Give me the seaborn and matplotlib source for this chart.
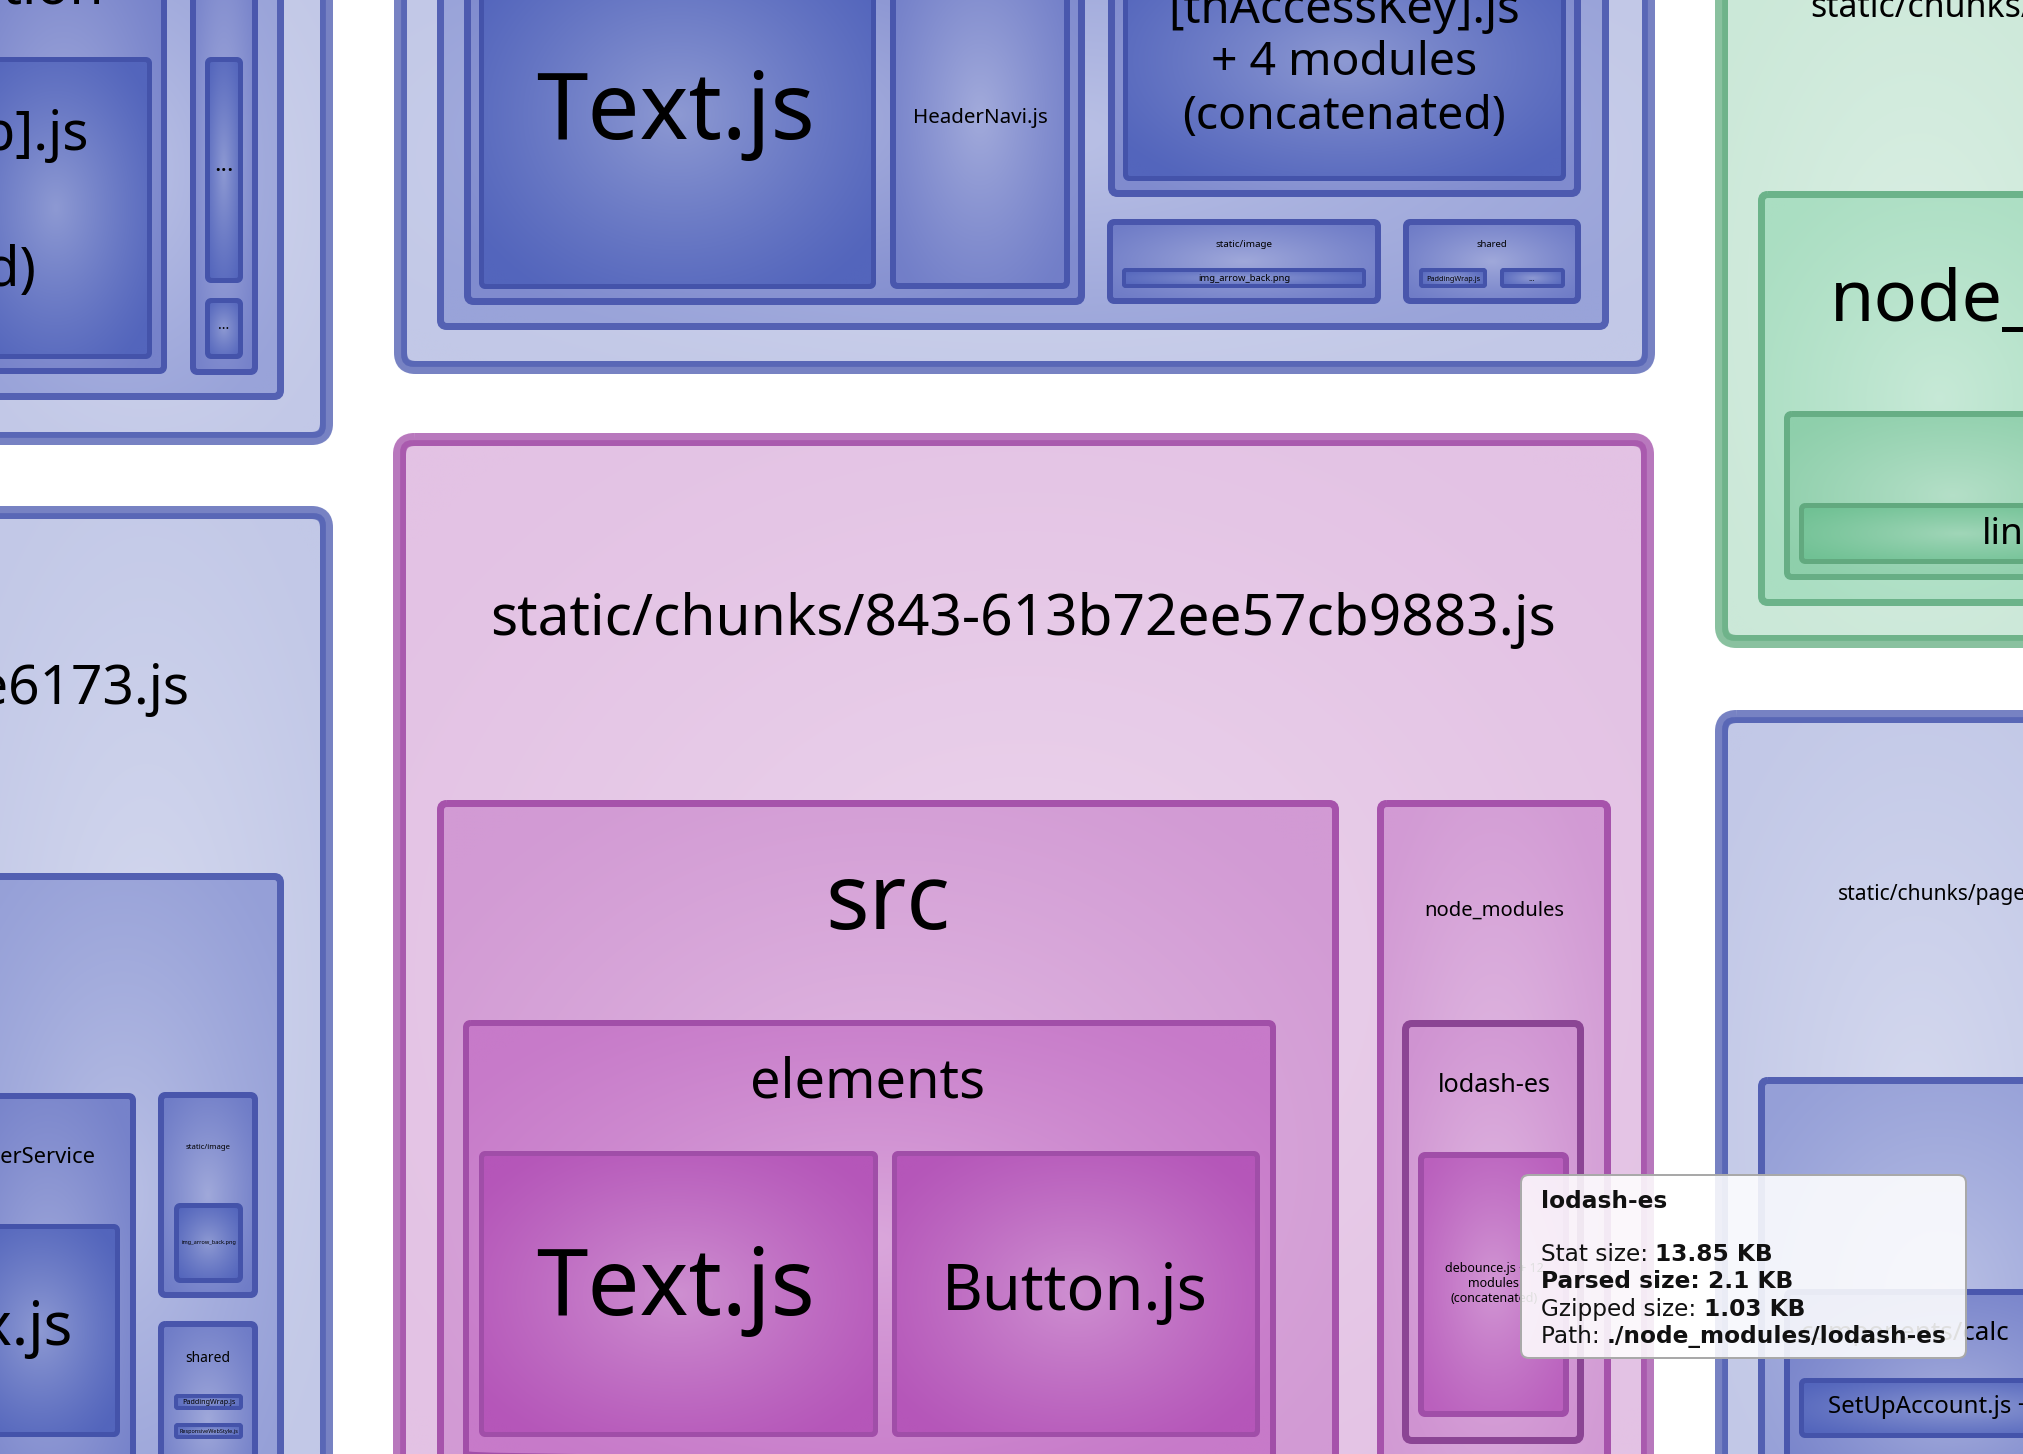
import numpy as np
import matplotlib
matplotlib.use("Agg")
import matplotlib.pyplot as plt
from matplotlib.patches import FancyBboxPatch
from matplotlib.colors import to_rgb
import seaborn as sns

# ---------------------------------------------------------------------------
# Treemap boxes (bundle-analyzer view, zoomed in) - pixel extents on canvas
# ---------------------------------------------------------------------------
box_names = [
    # top-left chunk
    "chunk-tl", "pages-tl", "concat-parent-tl", "[job].js concat", "side-col-tl",
    "dots-tall", "dots-small",
    # top-middle chunk
    "chunk-top", "src-top", "components-top", "Text.js (top)", "HeaderNavi.js",
    "utils-top", "[thAccessKey].js concat", "static/image (top)",
    "img_arrow_back.png (top)", "shared (top)", "PaddingWrap.js (top)", "dots-top",
    # top-right green chunk
    "framework", "node_modules (green)", "pkg-green", "linkify-it",
    # bottom-left chunk
    "chunk-bl", "src-bl", "userService", "index.js", "static/image (bl)",
    "img_arrow_back.png (bl)", "shared (bl)", "PaddingWrap.js (bl)",
    "ResponsiveWebStyle.js",
    # centre pink chunk
    "843-613b72ee57cb9883.js", "src", "elements", "Text.js", "Button.js",
    "node_modules", "lodash-es", "debounce.js concat",
    # bottom-right chunk
    "pages-calc", "pages-calc-src", "components/calc", "SetUpAccount.js concat",
]
box_family = (["blue"] * 7 + ["blue"] * 12 + ["green"] * 4 + ["blue"] * 9
              + ["pink"] * 8 + ["blue"] * 4)
box_shade = [
    0, 1, 2, 3, 2, 3, 3,
    0, 1, 1.7, 3, 2.1, 1.7, 3, 2.2, 3, 2.2, 3, 3,
    0, 1, 2, 3,
    0, 1.1, 2, 3, 2.2, 3, 2.2, 3, 3,
    0, 1, 2, 3, 3, 1, 1.2, 2.7,
    0, 1.1, 2, 3,
]
box_x0 = [
    -40, -40, -40, -40, 190, 205, 205,
    394, 437, 464, 479, 890, 1108, 1123, 1107, 1122, 1403, 1419, 1500,
    1715, 1758, 1784, 1799,
    -40, -40, -40, -40, 158, 174, 158, 174, 174,
    393, 437, 463, 479, 892, 1377, 1402, 1418,
    1715, 1758, 1784, 1799,
]
box_y0 = [
    -60, -60, -60, 57, -60, 57, 298,
    -60, -60, -60, -60, -60, -60, -60, 219, 268, 219, 268, 268,
    -60, 191, 411, 503,
    506, 873, 1093, 1224, 1092, 1203, 1321, 1394, 1423,
    433, 800, 1020, 1151, 1151, 800, 1020, 1152,
    710, 1077, 1289, 1378,
]
box_x1 = [
    333, 284, 167, 152, 258, 243, 243,
    1655, 1609, 1085, 876, 1070, 1581, 1566, 1381, 1366, 1581, 1487, 1565,
    2120, 2120, 2120, 2120,
    333, 284, 136, 120, 258, 243, 258, 243, 243,
    1654, 1339, 1276, 878, 1260, 1611, 1584, 1569,
    2120, 2120, 2120, 2120,
]
box_y1 = [
    445, 400, 374, 359, 375, 283, 359,
    374, 330, 305, 289, 289, 197, 181, 304, 288, 304, 288, 288,
    648, 606, 580, 564,
    1520, 1520, 1520, 1437, 1298, 1283, 1520, 1410, 1439,
    1520, 1520, 1462, 1437, 1437, 1520, 1444, 1417,
    1520, 1520, 1520, 1438,
]
hovered = ["lodash-es"]

# labels: text, x, baseline y, alignment, target width (px) or font size (px)
label_text = [
    "registration", "[job].js", "(concatenated)", "...", "...",
    "Text.js", "HeaderNavi.js", "[thAccessKey].js", "+ 4 modules", "(concatenated)",
    "static/image", "img_arrow_back.png", "shared", "PaddingWrap.js", "...",
    "static/chunks/framework-2c79e2a64abdb08b.js", "node_modules", "linkify-it",
    "static/chunks/1d1-5c1ce0be6173.js", "userService", "index.js",
    "static/image", "img_arrow_back.png", "shared", "PaddingWrap.js",
    "ResponsiveWebStyle.js",
    "static/chunks/843-613b72ee57cb9883.js", "src", "elements", "Text.js",
    "Button.js", "node_modules", "lodash-es",
    "debounce.js + 12", "modules", "(concatenated)",
    "static/chunks/pages/calculator-8a1f3c.js", "components/calc",
    "SetUpAccount.js + 2 modules (concatenated)",
]
label_x = [
    104, 89, 37, 224, 224,
    676, 980, 1344, 1344, 1344,
    1244, 1244, 1492, 1453, 1532,
    1810, 1830, 1982,
    189, 95, 73,
    208, 209, 208, 209, 209,
    1023, 888, 868, 676, 1075, 1494, 1494,
    1494, 1494, 1494,
    1838, 1953, 1828,
]
label_y = [
    4, 150, 286, 171, 329,
    139, 123, 23, 75, 129,
    247, 281, 247, 281, 281,
    17, 321, 544,
    704, 1163, 1345,
    1149, 1244, 1362, 1404, 1433,
    635, 929, 1097, 1315, 1310, 916, 1092,
    1272, 1287, 1302,
    900, 1340, 1413,
]
label_ha = [
    "right", "right", "right", "center", "center",
    "center", "center", "center", "center", "center",
    "center", "center", "center", "center", "center",
    "left", "left", "left",
    "right", "right", "right",
    "center", "center", "center", "center", "center",
    "center", "center", "center", "center", "center", "center", "center",
    "center", "center", "center",
    "left", "slash", "left",
]
label_width = [
    0, 0, 0, 0, 0,
    279, 135, 352, 266, 324,
    57, 93, 31, 54, 0,
    0, 0, 0,
    0, 0, 0,
    45, 55, 45, 53, 59,
    1066, 125, 235, 279, 266, 140, 113,
    0, 0, 0,
    0, 0, 0,
]
label_px = [
    55, 55, 55, 24, 14,
    0, 0, 0, 0, 0,
    0, 0, 0, 0, 8,
    34, 72, 37,
    55, 22, 60,
    0, 0, 0, 0, 0,
    0, 0, 0, 0, 0, 0, 0,
    12.5, 12.5, 12.5,
    21, 26, 24,
]

# tooltip contents
tip_title = "lodash-es"
tip_keys = ["Stat size: ", "Parsed size: ", "Gzipped size: ", "Path: "]
tip_vals = ["13.85 KB", "2.1 KB", "1.03 KB", "./node_modules/lodash-es"]
tip_active = "Parsed size: "

# ---------------------------------------------------------------------------
# styling
# ---------------------------------------------------------------------------
sns.set_theme(style="white")
plt.rcParams["font.family"] = ["Noto Sans", "DejaVu Sans"]
LABEL_FONT = ["Noto Sans", "DejaVu Sans"]
TIP_FONT = ["DejaVu Sans"]

fills = {
    "blue": ["#c2c8e7", "#99a3d9", "#7682ca", "#5365bc"],
    "pink": ["#e3c2e4", "#d29ad4", "#c77ac9", "#b556b9"],
    "green": ["#cbe8d8", "#aadec2", "#8ecfab", "#70c194"],
}
edges = {
    "blue": ["#5967b6", "#5461b3", "#4a57ad", "#4453aa"],
    "pink": ["#a95aae", "#a653ab", "#a14fa8", "#a04ea8"],
    "green": ["#6fb38a", "#6cb38a", "#67ae85", "#62a97f"],
}
fill_pal = {k: sns.blend_palette(v, n_colors=31) for k, v in fills.items()}
edge_pal = {k: sns.blend_palette(v, n_colors=31) for k, v in edges.items()}

W, H, DPI = 2024, 1454, 100
PT = 72 / DPI

fig = plt.figure(figsize=(W / DPI, H / DPI), dpi=DPI, facecolor="white")
ax = fig.add_axes([0, 0, 1, 1])
ax.set_xlim(0, W)
ax.set_ylim(H, 0)
ax.axis("off")
renderer = fig.canvas.get_renderer()


def width_px(s, size_pt, family, weight="normal"):
    t = ax.text(0, 0, s, fontsize=size_pt, family=family, fontweight=weight)
    w = t.get_window_extent(renderer=renderer).width
    t.remove()
    return w


g = np.linspace(-1, 1, 120)
GU, GV = np.meshgrid(g, g)
GLOW = np.clip(1 - np.sqrt(GU ** 2 + GV ** 2) / 1.25, 0, 1) ** 1.2


def draw_box(x0, y0, x1, y1, fill, edge, level, z):
    w, h = x1 - x0, y1 - y0
    small = min(w, h) < 30
    bw = {0: 13, 1: 7, 2: 6, 3: 5}[level]
    rad = {0: 22, 1: 10, 2: 8, 3: 7}[level]
    if small:
        bw, rad = 4, 4
    clip = FancyBboxPatch((x0, y0), w, h,
                          boxstyle=f"round,pad=0,rounding_size={rad}",
                          transform=ax.transData)
    k = (0.34 if level else 0.30) * GLOW[..., None]
    img = np.array(to_rgb(fill))[None, None, :] * (1 - k) + k
    im = ax.imshow(img, extent=(x0, x1, y1, y0), interpolation="bilinear",
                   aspect="auto", zorder=z)
    im.set_clip_path(clip)
    ec = np.array(to_rgb(edge))
    if level == 0:
        light = ec * 0.82 + 0.18
        ax.add_patch(FancyBboxPatch(
            (x0 + bw / 2, y0 + bw / 2), w - bw, h - bw,
            boxstyle=f"round,pad=0,rounding_size={rad - bw / 2}",
            fc="none", ec=light, lw=bw * PT, zorder=z + 0.1))
        dw = bw * 0.45
        ax.add_patch(FancyBboxPatch(
            (x0 + bw - dw / 2, y0 + bw - dw / 2), w - 2 * bw + dw, h - 2 * bw + dw,
            boxstyle=f"round,pad=0,rounding_size={max(rad - bw, 2)}",
            fc="none", ec=ec, lw=dw * PT, zorder=z + 0.2))
    else:
        ax.add_patch(FancyBboxPatch(
            (x0 + bw / 2, y0 + bw / 2), w - bw, h - bw,
            boxstyle=f"round,pad=0,rounding_size={max(rad - bw / 2, 1)}",
            fc="none", ec=ec, lw=bw * PT, zorder=z + 0.1))


for i, name in enumerate(box_names):
    fam, sh = box_family[i], box_shade[i]
    idx = int(round(sh * 10))
    edge = "#8b4594" if name in hovered else edge_pal[fam][idx]
    draw_box(box_x0[i], box_y0[i], box_x1[i], box_y1[i],
             fill_pal[fam][idx], edge, int(sh), z=1 + i)

# ---------------------------------------------------------------------------
# labels
# ---------------------------------------------------------------------------
for s, x, y, ha, tw, px in zip(label_text, label_x, label_y, label_ha,
                               label_width, label_px):
    if tw:
        size = 50 * tw / width_px(s, 50, LABEL_FONT)
    else:
        size = px * PT
    if ha == "slash":
        # keep the "/" of the path at x
        head = s.split("/")[0]
        x = x - width_px(head, size, LABEL_FONT)
        ha = "left"
    ax.text(x, y, s, fontsize=size, family=LABEL_FONT, ha=ha, va="baseline",
            color="black", zorder=100)

# ---------------------------------------------------------------------------
# hover tooltip
# ---------------------------------------------------------------------------
tx0, ty0, tx1, ty1 = 1521, 1175, 1966, 1358
ax.add_patch(FancyBboxPatch((tx0, ty0), tx1 - tx0, ty1 - ty0,
                            boxstyle="round,pad=0,rounding_size=8",
                            fc=(1, 1, 1, 0.88), ec="#a9a9a9", lw=2 * PT,
                            zorder=200))
ref = width_px(tip_keys[-1], 20, TIP_FONT) + width_px(tip_vals[-1], 20, TIP_FONT, "bold")
tsize = 20 * 405 / ref
left = 1541
ax.text(left, 1208, tip_title, fontsize=tsize, family=TIP_FONT,
        fontweight="bold", va="baseline", color="#111111", zorder=201)
for j, (key, val) in enumerate(zip(tip_keys, tip_vals)):
    yb = 1261 + j * 27.3
    kw = "bold" if key == tip_active else "normal"
    ax.text(left, yb, key, fontsize=tsize, family=TIP_FONT, fontweight=kw,
            va="baseline", color="#111111", zorder=201)
    off = width_px(key, tsize, TIP_FONT, kw)
    ax.text(left + off, yb, val, fontsize=tsize, family=TIP_FONT,
            fontweight="bold", va="baseline", color="#111111", zorder=201)

ax.set_xlim(0, W)
ax.set_ylim(H, 0)
fig.savefig("out.png", dpi=DPI, facecolor="white")
